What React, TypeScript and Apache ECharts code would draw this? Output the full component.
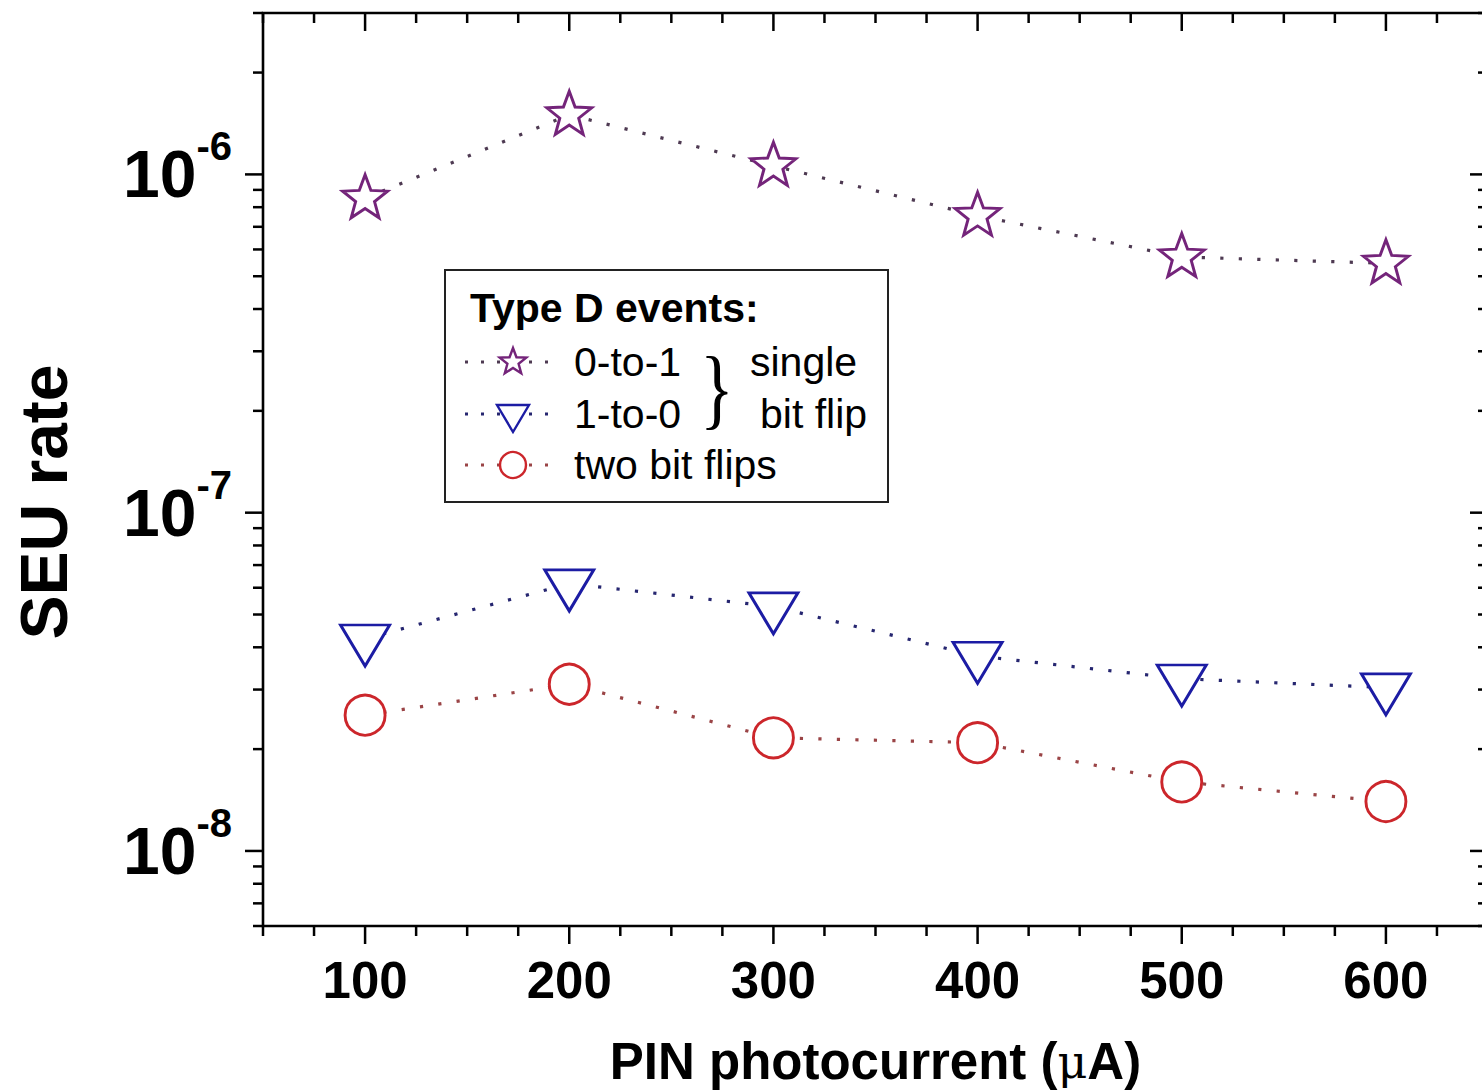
import React, { useEffect, useRef } from 'react';
import * as echarts from 'echarts';

const FONT = '"Liberation Sans", Arial, Helvetica, sans-serif';

// ---- data ----
const pinCurrent = [100, 200, 300, 400, 500, 600];
const zeroToOne = [8.5e-7, 1.5e-6, 1.06e-6, 7.55e-7, 5.7e-7, 5.46e-7];
const oneToZero = [4.24e-8, 6.17e-8, 5.28e-8, 3.77e-8, 3.23e-8, 3.04e-8];
const twoBitFlips = [2.52e-8, 3.11e-8, 2.16e-8, 2.09e-8, 1.6e-8, 1.4e-8];

const seriesNames = ['0-to-1', '1-to-0', 'two bit flips'];
const legendTitle = 'Type D events:';
const braceLabels = ['single', 'bit flip'];
const xAxisTitle = 'PIN photocurrent ({m|\u03bc}A)';
const yAxisTitle = 'SEU rate';

// ---- ticks ----
const xMajorTicks = [100, 200, 300, 400, 500, 600];
const xMinorTicks = [50, 75, 125, 150, 175, 225, 250, 275, 325, 350, 375, 425, 450, 475, 525, 550, 575, 625, 650];
const yMajorTicks = [1e-8, 1e-7, 1e-6];
const yMinorTicks = [
  6e-9, 7e-9, 8e-9, 9e-9,
  2e-8, 3e-8, 4e-8, 5e-8, 6e-8, 7e-8, 8e-8, 9e-8,
  2e-7, 3e-7, 4e-7, 5e-7, 6e-7, 7e-7, 8e-7, 9e-7,
  2e-6, 3e-6,
];

const COLORS = {
  star: '#74247a',
  starLine: '#4e3a52',
  tri: '#1c1ca4',
  triLine: '#262670',
  circ: '#cc262b',
  circLine: '#9a4446',
};

// 5-point star outline (geometric center at 50,50)
const STAR_PTS: number[][] = [
  [50, 0], [62.34, 33.01], [97.55, 34.55], [69.97, 56.49], [79.39, 90.45],
  [50, 71], [20.61, 90.45], [30.03, 56.49], [2.45, 34.55], [37.66, 33.01],
];
const STAR_PATH = 'path://M' + STAR_PTS.map((p) => p.join(',')).join('L') + 'Z';
const TRI_PATH = 'path://M0,0L100,0L50,86.6Z';

const MAJOR_LEN = 18;
const MINOR_LEN = 10;
const TICK_W = 2.5;

const tickStyle = { stroke: '#000', lineWidth: TICK_W };

function renderXTick(params: any, api: any) {
  const v = api.value(0);
  const major = api.value(2) === 1;
  const cs = params.coordSys;
  const px = api.coord([v, api.value(1)])[0];
  const len = major ? MAJOR_LEN : MINOR_LEN;
  const bottom = cs.y + cs.height;
  return {
    type: 'group',
    children: [
      { type: 'line', shape: { x1: px, y1: bottom, x2: px, y2: bottom + len }, style: tickStyle },
      { type: 'line', shape: { x1: px, y1: cs.y, x2: px, y2: cs.y + len }, style: tickStyle },
    ],
  };
}

function renderYTick(params: any, api: any) {
  const v = api.value(1);
  const major = api.value(2) === 1;
  const cs = params.coordSys;
  const py = api.coord([api.value(0), v])[1];
  const len = major ? MAJOR_LEN : MINOR_LEN;
  const right = cs.x + cs.width;
  return {
    type: 'group',
    children: [
      { type: 'line', shape: { x1: cs.x - len, y1: py, x2: cs.x, y2: py }, style: tickStyle },
      { type: 'line', shape: { x1: right - len, y1: py, x2: right, y2: py }, style: tickStyle },
    ],
  };
}

function legendGraphics() {
  const rows = [362, 414, 465];
  const symX = 513;
  const lineStart = 465;
  const lineEnd = 560;
  const lineColors = [COLORS.starLine, COLORS.triLine, COLORS.circLine];
  const els: any[] = [];
  els.push({
    type: 'rect',
    shape: { x: 445, y: 270, width: 443, height: 232 },
    style: { fill: '#fff', stroke: '#222', lineWidth: 2 },
    z: 100,
  });
  els.push({
    type: 'text',
    x: 470,
    y: 308,
    style: { text: legendTitle, fontFamily: FONT, fontWeight: 'bold', fontSize: 41, fill: '#000', align: 'left', verticalAlign: 'middle' },
    z: 101,
  });
  rows.forEach((ry, i) => {
    els.push({
      type: 'line',
      shape: { x1: lineStart, y1: ry, x2: lineEnd, y2: ry },
      style: { stroke: lineColors[i], lineWidth: 3, lineDash: [3, 13] },
      z: 101,
    });
    els.push({
      type: 'text',
      x: 574,
      y: ry,
      style: { text: seriesNames[i], fontFamily: FONT, fontSize: 41, fill: '#000', align: 'left', verticalAlign: 'middle' },
      z: 101,
    });
  });
  const k = 0.28;
  els.push({
    type: 'polygon',
    shape: { points: STAR_PTS.map(([x, y]) => [symX + (x - 50) * k, rows[0] + (y - 50) * k]) },
    style: { fill: '#fff', stroke: COLORS.star, lineWidth: 2.4 },
    z: 102,
  });
  els.push({
    type: 'polygon',
    shape: { points: [[symX - 16, rows[1] - 9], [symX + 16, rows[1] - 9], [symX, rows[1] + 18]] },
    style: { fill: '#fff', stroke: COLORS.tri, lineWidth: 2.4 },
    z: 102,
  });
  els.push({
    type: 'circle',
    shape: { cx: symX, cy: rows[2], r: 13 },
    style: { fill: '#fff', stroke: COLORS.circ, lineWidth: 2.4 },
    z: 102,
  });
  els.push({
    type: 'text',
    x: 717,
    y: 388,
    scaleX: 0.8,
    style: { text: '}', fontFamily: '"Liberation Serif", "DejaVu Serif", serif', fontSize: 88, fill: '#000', align: 'center', verticalAlign: 'middle' },
    z: 101,
  });
  els.push({
    type: 'text',
    x: 750,
    y: rows[0],
    style: { text: braceLabels[0], fontFamily: FONT, fontSize: 41, fill: '#000', align: 'left', verticalAlign: 'middle' },
    z: 101,
  });
  els.push({
    type: 'text',
    x: 760,
    y: rows[1],
    style: { text: braceLabels[1], fontFamily: FONT, fontSize: 41, fill: '#000', align: 'left', verticalAlign: 'middle' },
    z: 101,
  });
  return els;
}

function buildOption(): any {
  const lineSeries = (name: string, values: number[], symbol: string, size: any, offset: number[], color: string, lineColor: string) => ({
    name,
    type: 'line',
    data: pinCurrent.map((x, i) => [x, values[i]]),
    symbol,
    symbolSize: size,
    symbolOffset: offset,
    showAllSymbol: true,
    lineStyle: { color: lineColor, width: 3.2, type: [3.2, 15.3], cap: 'butt' },
    itemStyle: { color: '#fff', borderColor: color, borderWidth: 2.9 },
    emphasis: { disabled: true },
    z: 3,
  });

  return {
    animation: false,
    backgroundColor: '#fff',
    grid: {
      left: 263,
      top: 13,
      width: 1225,
      height: 913,
      show: true,
      borderColor: '#000',
      borderWidth: 2.6,
      backgroundColor: 'transparent',
      containLabel: false,
      outerBoundsMode: 'none',
    },
    xAxis: {
      type: 'value',
      min: 50,
      max: 650,
      interval: 50,
      axisLine: { show: false },
      axisTick: { show: false },
      splitLine: { show: false },
      axisLabel: {
        margin: 29,
        fontFamily: FONT,
        fontWeight: 'bold',
        fontSize: 51,
        color: '#000',
        formatter: (v: number) => (xMajorTicks.indexOf(v) >= 0 ? String(v) : ''),
      },
      name: xAxisTitle,
      nameLocation: 'middle',
      nameGap: 110,
      nameTextStyle: {
        fontFamily: FONT,
        fontWeight: 'bold',
        fontSize: 51,
        color: '#000',
        lineHeight: 51,
        rich: {
          m: { fontFamily: '"DejaVu Serif", "Liberation Serif", serif', fontWeight: 'normal', fontSize: 46, lineHeight: 51, color: '#000' },
        },
      },
    },
    yAxis: {
      type: 'log',
      logBase: 10,
      min: 6e-9,
      max: 3e-6,
      axisLine: { show: false },
      axisTick: { show: false },
      splitLine: { show: false },
      minorTick: { show: false },
      axisLabel: {
        margin: 31,
        formatter: (v: number) => {
          const e = Math.log10(v);
          const r = Math.round(e);
          if (Math.abs(e - r) > 1e-6) return '';
          return '{a|10}{b|' + r + '}';
        },
        rich: {
          a: { fontFamily: FONT, fontWeight: 'bold', fontSize: 66, lineHeight: 96, color: '#000' },
          b: { fontFamily: FONT, fontWeight: 'bold', fontSize: 40, lineHeight: 46, color: '#000', verticalAlign: 'top' },
        },
      },
    },
    series: [
      {
        type: 'custom',
        name: 'xticks',
        coordinateSystem: 'cartesian2d',
        renderItem: renderXTick,
        data: [
          ...xMajorTicks.map((v) => [v, 1e-7, 1]),
          ...xMinorTicks.map((v) => [v, 1e-7, 0]),
        ],
        encode: { x: 0, y: 1 },
        silent: true,
        clip: false,
        z: 10,
      },
      {
        type: 'custom',
        name: 'yticks',
        coordinateSystem: 'cartesian2d',
        renderItem: renderYTick,
        data: [
          ...yMajorTicks.map((v) => [100, v, 1]),
          ...yMinorTicks.map((v) => [100, v, 0]),
        ],
        encode: { x: 0, y: 1 },
        silent: true,
        clip: false,
        z: 10,
      },
      lineSeries(seriesNames[0], zeroToOne, STAR_PATH, [45, 43], [0, -2], COLORS.star, COLORS.starLine),
      lineSeries(seriesNames[1], oneToZero, TRI_PATH, [49, 41], [0, 6.8], COLORS.tri, COLORS.triLine),
      lineSeries(seriesNames[2], twoBitFlips, 'circle', 40, [0, 0], COLORS.circ, COLORS.circLine),
    ],
    graphic: [
      {
        type: 'text',
        x: 44,
        y: 502,
        rotation: Math.PI / 2,
        style: { text: yAxisTitle, fontFamily: FONT, fontWeight: 'bold', fontSize: 66, fill: '#000', align: 'center', verticalAlign: 'middle' },
      },
      ...legendGraphics(),
    ],
  };
}

export default function App() {
  const ref = useRef<HTMLDivElement>(null);
  useEffect(() => {
    if (!ref.current) return;
    const chart = echarts.init(ref.current, undefined, { renderer: 'svg' });
    chart.setOption(buildOption());
    return () => chart.dispose();
  }, []);
  return (
    <div style={{ position: 'fixed', left: 0, top: 0, width: 1482, height: 1092, overflow: 'hidden', background: '#fff' }}>
      <div ref={ref} style={{ width: 1500, height: 1092 }} />
    </div>
  );
}
